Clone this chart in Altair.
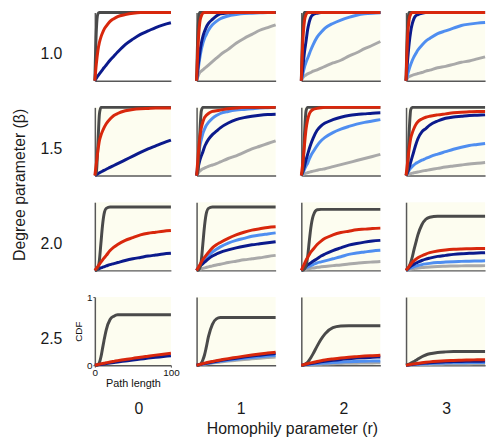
import altair as alt
import pandas as pd

# Path-length grid shared by every curve
X = [0, 2, 4, 6, 8, 10, 12, 15, 20, 25, 30, 40, 50, 60, 70, 80, 90, 100]

BETAS = ["1.0", "1.5", "2.0", "2.5"]
RS = ["0", "1", "2", "3"]

# draw order (last on top)
SERIES = ["lgray", "lblue", "dblue", "dgray", "red"]
COLORS = {
    "lgray": "#a9a9a9",
    "lblue": "#4f8ef0",
    "dblue": "#0b1a8c",
    "dgray": "#4a4a4a",
    "red": "#d8270c",
}

# ---- beta = 1.0 ----
P_10_0 = {
    "dgray": [0, 0.75, 0.98, 1, 1, 1, 1, 1, 1, 1, 1, 1, 1, 1, 1, 1, 1, 1],
    "red": [0, 0.25, 0.44, 0.56, 0.64, 0.70, 0.75, 0.80, 0.87, 0.91, 0.94, 0.97, 0.99, 1, 1, 1, 1, 1],
    "dblue": [0, 0.035, 0.07, 0.10, 0.13, 0.16, 0.19, 0.23, 0.30, 0.36, 0.42, 0.53, 0.61, 0.68, 0.73, 0.78, 0.82, 0.85],
}
P_10_1 = {
    "dgray": [0, 0.8, 1, 1, 1, 1, 1, 1, 1, 1, 1, 1, 1, 1, 1, 1, 1, 1],
    "red": [0, 0.55, 0.85, 0.95, 0.99, 1, 1, 1, 1, 1, 1, 1, 1, 1, 1, 1, 1, 1],
    "dblue": [0, 0.22, 0.41, 0.55, 0.65, 0.72, 0.78, 0.84, 0.90, 0.95, 0.98, 0.995, 1, 1, 1, 1, 1, 1],
    "lblue": [0, 0.17, 0.33, 0.46, 0.55, 0.62, 0.67, 0.74, 0.82, 0.87, 0.91, 0.95, 0.97, 0.985, 0.99, 0.995, 1, 1],
    "lgray": [0, 0.07, 0.12, 0.14, 0.16, 0.18, 0.20, 0.23, 0.28, 0.33, 0.38, 0.46, 0.55, 0.62, 0.68, 0.74, 0.78, 0.82],
}
P_10_2 = {
    "dgray": [0, 0.8, 1, 1, 1, 1, 1, 1, 1, 1, 1, 1, 1, 1, 1, 1, 1, 1],
    "red": [0, 0.6, 0.88, 0.97, 1, 1, 1, 1, 1, 1, 1, 1, 1, 1, 1, 1, 1, 1],
    "dblue": [0, 0.2, 0.42, 0.58, 0.75, 0.86, 0.93, 0.97, 0.99, 1, 1, 1, 1, 1, 1, 1, 1, 1],
    "lblue": [0, 0.1, 0.2, 0.27, 0.33, 0.39, 0.45, 0.53, 0.64, 0.71, 0.77, 0.84, 0.89, 0.93, 0.96, 0.98, 0.99, 0.995],
    "lgray": [0, 0.045, 0.07, 0.085, 0.10, 0.11, 0.12, 0.14, 0.16, 0.185, 0.21, 0.26, 0.30, 0.36, 0.41, 0.47, 0.52, 0.575],
}
P_10_3 = {
    "dgray": [0, 0.8, 1, 1, 1, 1, 1, 1, 1, 1, 1, 1, 1, 1, 1, 1, 1, 1],
    "red": [0, 0.65, 0.9, 0.98, 1, 1, 1, 1, 1, 1, 1, 1, 1, 1, 1, 1, 1, 1],
    "dblue": [0, 0.3, 0.55, 0.73, 0.84, 0.91, 0.95, 0.97, 0.99, 1, 1, 1, 1, 1, 1, 1, 1, 1],
    "lblue": [0, 0.09, 0.17, 0.24, 0.30, 0.35, 0.39, 0.45, 0.52, 0.58, 0.62, 0.69, 0.73, 0.77, 0.81, 0.83, 0.845, 0.855],
    "lgray": [0, 0.04, 0.06, 0.07, 0.08, 0.09, 0.095, 0.105, 0.12, 0.14, 0.155, 0.19, 0.21, 0.24, 0.27, 0.29, 0.32, 0.35],
}

# ---- beta = 1.5 ----
P_15_0 = {
    "dgray": [0, 0.05, 0.45, 0.9, 1, 1, 1, 1, 1, 1, 1, 1, 1, 1, 1, 1, 1, 1],
    "red": [0, 0.18, 0.36, 0.51, 0.59, 0.65, 0.70, 0.76, 0.83, 0.88, 0.91, 0.95, 0.97, 0.98, 0.985, 0.99, 0.99, 0.99],
    "dblue": [0, 0.013, 0.026, 0.039, 0.052, 0.064, 0.076, 0.093, 0.12, 0.148, 0.175, 0.23, 0.285, 0.34, 0.39, 0.435, 0.48, 0.52],
}
P_15_1 = {
    "dgray": [0, 0.1, 0.6, 0.95, 1, 1, 1, 1, 1, 1, 1, 1, 1, 1, 1, 1, 1, 1],
    "red": [0, 0.3, 0.55, 0.70, 0.79, 0.85, 0.88, 0.91, 0.94, 0.95, 0.96, 0.98, 0.99, 1, 1, 1, 1, 1],
    "lblue": [0, 0.22, 0.42, 0.53, 0.62, 0.68, 0.73, 0.78, 0.84, 0.88, 0.91, 0.94, 0.96, 0.97, 0.98, 0.99, 0.995, 1],
    "dblue": [0, 0.12, 0.22, 0.29, 0.35, 0.42, 0.47, 0.53, 0.60, 0.65, 0.70, 0.77, 0.82, 0.85, 0.87, 0.885, 0.895, 0.90],
    "lgray": [0, 0.035, 0.065, 0.085, 0.10, 0.11, 0.12, 0.135, 0.155, 0.175, 0.20, 0.25, 0.29, 0.34, 0.39, 0.43, 0.47, 0.51],
}
P_15_2 = {
    "dgray": [0, 0.1, 0.6, 0.95, 1, 1, 1, 1, 1, 1, 1, 1, 1, 1, 1, 1, 1, 1],
    "red": [0, 0.2, 0.45, 0.68, 0.82, 0.90, 0.94, 0.97, 0.985, 0.995, 1, 1, 1, 1, 1, 1, 1, 1],
    "dblue": [0, 0.06, 0.14, 0.23, 0.31, 0.39, 0.46, 0.55, 0.665, 0.73, 0.77, 0.82, 0.855, 0.88, 0.895, 0.905, 0.915, 0.92],
    "lblue": [0, 0.04, 0.09, 0.14, 0.18, 0.24, 0.29, 0.35, 0.44, 0.51, 0.56, 0.63, 0.68, 0.72, 0.755, 0.78, 0.80, 0.82],
    "lgray": [0, 0.012, 0.024, 0.034, 0.042, 0.05, 0.056, 0.065, 0.078, 0.09, 0.10, 0.13, 0.16, 0.19, 0.22, 0.25, 0.28, 0.31],
}
P_15_3 = {
    "dgray": [0, 0.1, 0.65, 0.97, 1, 1, 1, 1, 1, 1, 1, 1, 1, 1, 1, 1, 1, 1],
    "red": [0, 0.2, 0.4, 0.55, 0.63, 0.69, 0.74, 0.79, 0.83, 0.855, 0.87, 0.89, 0.905, 0.92, 0.93, 0.935, 0.94, 0.94],
    "dblue": [0, 0.05, 0.12, 0.20, 0.28, 0.36, 0.44, 0.54, 0.64, 0.69, 0.74, 0.80, 0.84, 0.86, 0.87, 0.88, 0.885, 0.89],
    "lblue": [0, 0.04, 0.08, 0.11, 0.135, 0.155, 0.175, 0.195, 0.225, 0.25, 0.275, 0.315, 0.35, 0.385, 0.415, 0.44, 0.455, 0.47],
    "lgray": [0, 0.01, 0.02, 0.028, 0.035, 0.04, 0.045, 0.052, 0.065, 0.075, 0.085, 0.105, 0.125, 0.14, 0.155, 0.17, 0.18, 0.19],
}

# ---- beta = 2.0 ----
P_20_0 = {
    "dgray": [0, 0, 0.03, 0.15, 0.4, 0.65, 0.82, 0.91, 0.93, 0.93, 0.93, 0.93, 0.93, 0.93, 0.93, 0.93, 0.93, 0.93],
    "red": [0, 0.03, 0.06, 0.09, 0.12, 0.15, 0.18, 0.22, 0.29, 0.34, 0.38, 0.44, 0.48, 0.52, 0.545, 0.56, 0.575, 0.585],
    "dblue": [0, 0.009, 0.018, 0.027, 0.036, 0.045, 0.053, 0.065, 0.085, 0.10, 0.115, 0.145, 0.17, 0.19, 0.21, 0.225, 0.24, 0.25],
}
P_20_1 = {
    "dgray": [0, 0, 0.03, 0.15, 0.4, 0.65, 0.82, 0.91, 0.93, 0.93, 0.93, 0.93, 0.93, 0.93, 0.93, 0.93, 0.93, 0.93],
    "red": [0, 0.04, 0.08, 0.12, 0.16, 0.19, 0.22, 0.265, 0.33, 0.375, 0.41, 0.47, 0.52, 0.56, 0.59, 0.61, 0.63, 0.64],
    "lblue": [0, 0.035, 0.07, 0.10, 0.13, 0.155, 0.18, 0.215, 0.27, 0.31, 0.345, 0.40, 0.44, 0.47, 0.50, 0.52, 0.535, 0.55],
    "dblue": [0, 0.03, 0.055, 0.08, 0.10, 0.12, 0.14, 0.17, 0.21, 0.24, 0.265, 0.30, 0.33, 0.355, 0.375, 0.39, 0.405, 0.42],
    "lgray": [0, 0.008, 0.016, 0.023, 0.03, 0.037, 0.043, 0.052, 0.066, 0.08, 0.09, 0.115, 0.135, 0.155, 0.17, 0.185, 0.205, 0.22],
}
P_20_2 = {
    "dgray": [0, 0, 0.02, 0.07, 0.2, 0.42, 0.62, 0.8, 0.89, 0.895, 0.895, 0.895, 0.895, 0.895, 0.895, 0.895, 0.895, 0.895],
    "red": [0, 0.05, 0.1, 0.15, 0.19, 0.23, 0.27, 0.31, 0.38, 0.43, 0.47, 0.52, 0.555, 0.575, 0.595, 0.605, 0.615, 0.62],
    "dblue": [0, 0.02, 0.04, 0.06, 0.08, 0.095, 0.11, 0.135, 0.17, 0.21, 0.24, 0.29, 0.33, 0.37, 0.395, 0.415, 0.43, 0.44],
    "lblue": [0, 0.013, 0.026, 0.038, 0.05, 0.06, 0.07, 0.085, 0.11, 0.125, 0.14, 0.17, 0.20, 0.235, 0.255, 0.27, 0.285, 0.295],
    "lgray": [0, 0.006, 0.012, 0.017, 0.022, 0.026, 0.03, 0.035, 0.045, 0.052, 0.058, 0.07, 0.08, 0.095, 0.105, 0.115, 0.123, 0.13],
}
P_20_3 = {
    "dgray": [0, 0.02, 0.06, 0.12, 0.2, 0.3, 0.39, 0.52, 0.67, 0.75, 0.78, 0.795, 0.795, 0.795, 0.795, 0.795, 0.795, 0.795],
    "red": [0, 0.03, 0.06, 0.09, 0.12, 0.14, 0.16, 0.185, 0.215, 0.24, 0.26, 0.285, 0.30, 0.31, 0.315, 0.318, 0.32, 0.32],
    "dblue": [0, 0.02, 0.04, 0.06, 0.075, 0.09, 0.105, 0.12, 0.145, 0.165, 0.18, 0.205, 0.22, 0.235, 0.245, 0.25, 0.255, 0.26],
    "lblue": [0, 0.012, 0.024, 0.035, 0.045, 0.055, 0.062, 0.072, 0.085, 0.095, 0.103, 0.115, 0.122, 0.128, 0.132, 0.135, 0.138, 0.14],
    "lgray": [0, 0.006, 0.012, 0.017, 0.022, 0.026, 0.03, 0.035, 0.042, 0.047, 0.051, 0.057, 0.061, 0.064, 0.066, 0.068, 0.069, 0.07],
}

# ---- beta = 2.5 ----
P_25_0 = {
    "dgray": [0, 0, 0.01, 0.04, 0.12, 0.24, 0.36, 0.52, 0.67, 0.72, 0.74, 0.74, 0.74, 0.74, 0.74, 0.74, 0.74, 0.74],
    "red": [0, 0.005, 0.01, 0.015, 0.02, 0.025, 0.03, 0.036, 0.047, 0.057, 0.067, 0.085, 0.10, 0.118, 0.133, 0.148, 0.162, 0.175],
    "dblue": [0, 0.003, 0.006, 0.009, 0.012, 0.015, 0.018, 0.023, 0.031, 0.039, 0.047, 0.062, 0.077, 0.09, 0.104, 0.116, 0.128, 0.14],
}
P_25_1 = {
    "dgray": [0, 0, 0.01, 0.03, 0.08, 0.15, 0.25, 0.42, 0.6, 0.68, 0.70, 0.70, 0.70, 0.70, 0.70, 0.70, 0.70, 0.70],
    "red": [0, 0.006, 0.012, 0.018, 0.024, 0.03, 0.035, 0.043, 0.055, 0.067, 0.077, 0.097, 0.115, 0.133, 0.15, 0.165, 0.178, 0.19],
    "dblue": [0, 0.005, 0.01, 0.015, 0.02, 0.025, 0.03, 0.037, 0.048, 0.058, 0.068, 0.086, 0.103, 0.119, 0.134, 0.147, 0.159, 0.17],
    "lblue": [0, 0.004, 0.008, 0.012, 0.016, 0.02, 0.024, 0.03, 0.04, 0.049, 0.058, 0.074, 0.088, 0.101, 0.113, 0.124, 0.135, 0.145],
    "lgray": [0, 0.003, 0.006, 0.009, 0.012, 0.015, 0.018, 0.023, 0.031, 0.039, 0.046, 0.06, 0.072, 0.083, 0.093, 0.103, 0.112, 0.12],
}
P_25_2 = {
    "dgray": [0, 0, 0.01, 0.025, 0.045, 0.075, 0.11, 0.17, 0.28, 0.38, 0.46, 0.55, 0.575, 0.58, 0.58, 0.58, 0.58, 0.58],
    "red": [0, 0.006, 0.012, 0.018, 0.024, 0.03, 0.035, 0.042, 0.055, 0.066, 0.076, 0.092, 0.106, 0.117, 0.126, 0.134, 0.14, 0.145],
    "dblue": [0, 0.004, 0.008, 0.012, 0.016, 0.02, 0.024, 0.03, 0.04, 0.049, 0.057, 0.072, 0.085, 0.095, 0.104, 0.111, 0.116, 0.12],
    "lblue": [0, 0.003, 0.006, 0.009, 0.011, 0.013, 0.015, 0.018, 0.023, 0.028, 0.032, 0.04, 0.046, 0.051, 0.055, 0.058, 0.061, 0.063],
    "lgray": [0, 0.002, 0.004, 0.005, 0.006, 0.007, 0.008, 0.01, 0.013, 0.015, 0.018, 0.022, 0.025, 0.028, 0.03, 0.032, 0.034, 0.035],
}
P_25_3 = {
    "dgray": [0, 0.008, 0.018, 0.03, 0.042, 0.055, 0.068, 0.09, 0.125, 0.15, 0.168, 0.188, 0.196, 0.2, 0.2, 0.2, 0.2, 0.2],
    "red": [0, 0.004, 0.008, 0.012, 0.016, 0.02, 0.023, 0.028, 0.036, 0.043, 0.049, 0.058, 0.065, 0.07, 0.074, 0.077, 0.079, 0.08],
    "dblue": [0, 0.003, 0.006, 0.009, 0.012, 0.015, 0.017, 0.021, 0.027, 0.032, 0.037, 0.044, 0.049, 0.053, 0.056, 0.058, 0.059, 0.06],
    "lblue": [0, 0.002, 0.004, 0.006, 0.008, 0.01, 0.011, 0.014, 0.018, 0.021, 0.024, 0.029, 0.033, 0.035, 0.037, 0.038, 0.039, 0.04],
    "lgray": [0, 0.001, 0.002, 0.003, 0.004, 0.005, 0.006, 0.007, 0.009, 0.011, 0.012, 0.014, 0.016, 0.017, 0.018, 0.019, 0.02, 0.02],
}

PANELS = [
    [P_10_0, P_10_1, P_10_2, P_10_3],
    [P_15_0, P_15_1, P_15_2, P_15_3],
    [P_20_0, P_20_1, P_20_2, P_20_3],
    [P_25_0, P_25_1, P_25_2, P_25_3],
]

FONT = "Liberation Sans"
CREAM = "#fdfdf0"
AXIS_GRAY = "#585858"
PANEL_W = [77, 80, 80, 80]
PANEL_H = 69
COL_GAP = 26
ROW_GAP = 27
LABEL_W = 70
BOTTOM_H = 40
COL_DX = [6, 5, 3, 1]


def make_panel(data, bi, ri):
    recs = []
    for s in SERIES:
        if s in data:
            for xv, yv in zip(X, data[s]):
                recs.append({"x": xv, "y": yv, "series": s})
    df = pd.DataFrame(recs)
    corner = (bi == 3 and ri == 0)
    common = dict(domainColor=AXIS_GRAY, domainWidth=1.5, grid=False)
    if corner:
        xaxis = alt.Axis(values=[0, 100], format="d", title="Path length", labelFontSize=10,
                         titleFontSize=11, labelFont=FONT, titleFont=FONT,
                         titleFontWeight="normal", labelColor="#111", titleColor="#111",
                         tickSize=2, tickColor=AXIS_GRAY, labelPadding=0, titlePadding=1,
                         labelFlush=False, **common)
        yaxis = alt.Axis(values=[0, 1], format="d", title="CDF", labelFontSize=10,
                         titleFontSize=10, labelFont=FONT, titleFont=FONT,
                         titleFontWeight="normal", labelColor="#111", titleColor="#111",
                         tickSize=2, tickColor=AXIS_GRAY, labelPadding=1, titlePadding=3,
                         labelFlush=False, **common)
    else:
        xaxis = alt.Axis(labels=False, ticks=False, title=None, **common)
        yaxis = alt.Axis(labels=False, ticks=False, title=None, **common)
    layers = []
    for s in SERIES:
        if s not in data:
            continue
        layers.append(
            alt.Chart(df)
            .transform_filter(alt.datum.series == s)
            .mark_line(color=COLORS[s], strokeWidth=3, interpolate="monotone")
            .encode(
                x=alt.X("x:Q", scale=alt.Scale(domain=[0, 100], nice=False), axis=xaxis),
                y=alt.Y("y:Q", scale=alt.Scale(domain=[0, 1], nice=False), axis=yaxis),
            )
        )
    fill = "white" if (bi == 0 and ri == 0) else CREAM
    return alt.layer(*layers).properties(
        width=PANEL_W[ri], height=PANEL_H,
        view=alt.ViewBackground(fill=fill, stroke=None),
    )


def text_layer(label, size=16, dx=0, dy=0, angle=0):
    kw = dict(fontSize=size, font=FONT, color="#1a1a1a", dx=dx, dy=dy)
    if angle:
        kw["angle"] = angle
    return (
        alt.Chart(pd.DataFrame({"t": [label]}))
        .mark_text(**kw)
        .encode(text="t:N")
    )


cells = []
for bi, beta in enumerate(BETAS):
    lab = text_layer(beta, dx=17, dy=8)
    if bi == 1:
        lab = alt.layer(lab, text_layer("Degree parameter (\u03b2)", dx=-44, dy=-15, angle=270))
    cells.append(lab.properties(width=LABEL_W, height=PANEL_H))
    for ri in range(4):
        cells.append(make_panel(PANELS[bi][ri], bi, ri))

# bottom row: column values and the shared x title
cells.append(text_layer("").properties(width=LABEL_W, height=BOTTOM_H))
for ri, r in enumerate(RS):
    lay = text_layer(r, dx=COL_DX[ri], dy=-3)
    if ri == 1:
        lay = alt.layer(lay, text_layer("Homophily parameter (r)", dx=57, dy=18))
    cells.append(lay.properties(width=PANEL_W[ri], height=BOTTOM_H))

chart = (
    alt.concat(*cells, columns=5, spacing=alt.RowColnumber(row=ROW_GAP, column=COL_GAP),
               bounds="flush", align="each")
    .properties(padding={"left": 0, "top": 4, "right": 0, "bottom": 0}, background="white")
    .configure_view(stroke=None)
)

chart.save("out.html", embed_options={"renderer": "svg", "actions": False})
